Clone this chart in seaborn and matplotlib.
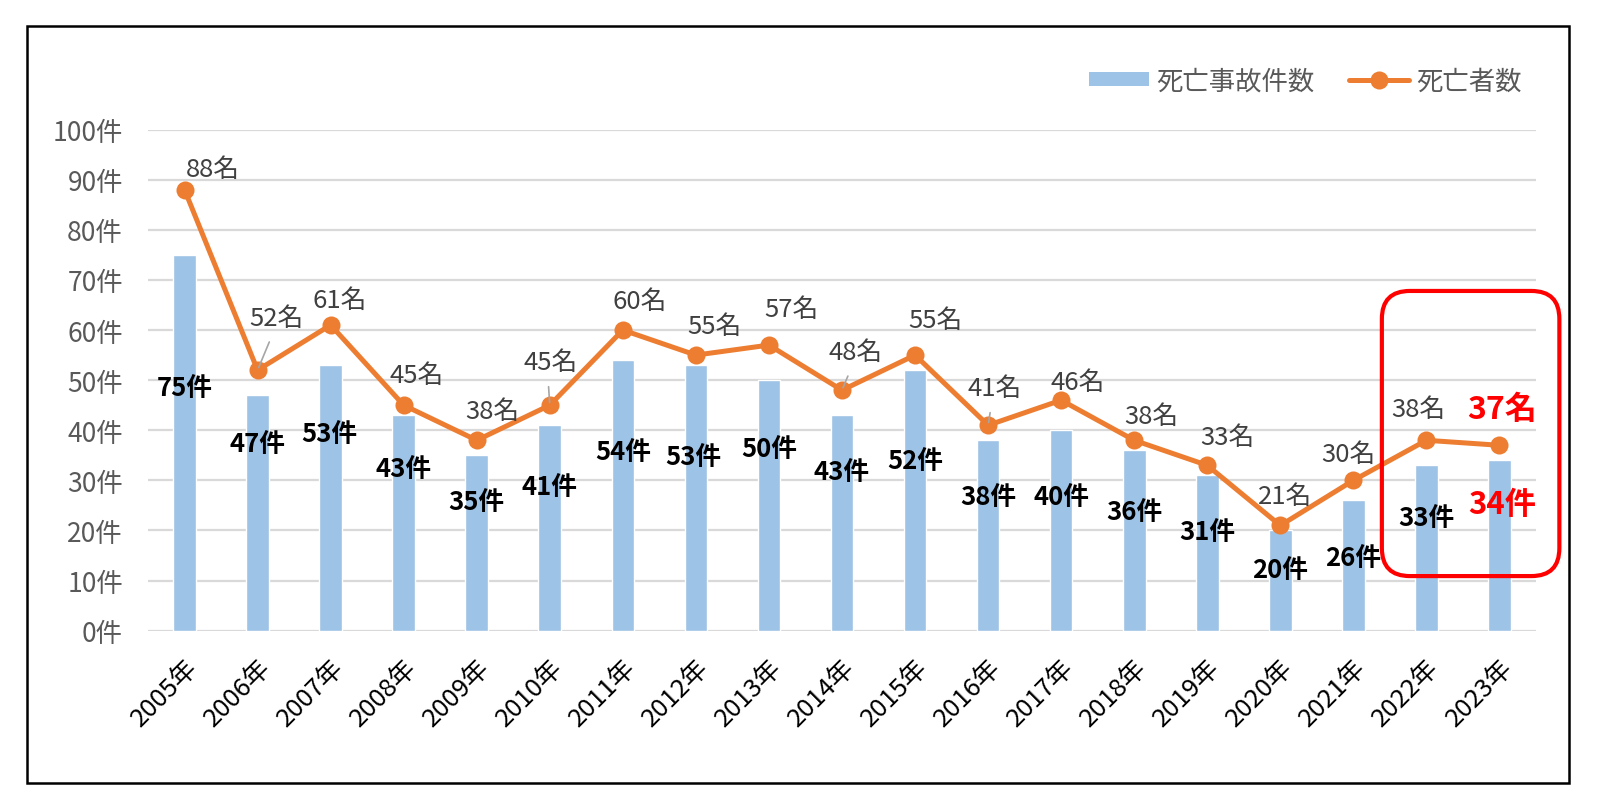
import numpy as np
import pandas as pd
import matplotlib
matplotlib.use('Agg')
import matplotlib.pyplot as plt
import seaborn as sns
from matplotlib.patches import FancyBboxPatch, Rectangle, Patch
from matplotlib.lines import Line2D
from matplotlib.transforms import IdentityTransform

# data
years = ['2005年', '2006年', '2007年', '2008年', '2009年', '2010年', '2011年',
         '2012年', '2013年', '2014年', '2015年', '2016年', '2017年', '2018年',
         '2019年', '2020年', '2021年', '2022年', '2023年']
accidents = [75, 47, 53, 43, 35, 41, 54, 53, 50, 43, 52, 38, 40, 36, 31, 20, 26, 33, 34]
deaths = [88, 52, 61, 45, 38, 45, 60, 55, 57, 48, 55, 41, 46, 38, 33, 21, 30, 38, 37]

# where the data labels sit (as placed by hand in the original)
acc_lbl_dx = [0, 0, -0.02, 0, 0, 0, 0, -0.03, 0, 0, 0, 0, 0, 0, 0, 0, 0, 0, 0.04]
acc_lbl_y = [48.6, 37.3, 39.3, 32.3, 25.7, 28.7, 35.7, 34.7, 36.3, 31.7, 34.0,
             26.7, 26.7, 23.7, 19.7, 12.3, 14.7, 22.6, 25.2]
dth_lbl_dx = [0.39, 0.26, 0.13, 0.18, 0.22, 0.01, 0.23, 0.26, 0.31, 0.18, 0.28,
              0.09, 0.23, 0.24, 0.28, 0.06, -0.07, -0.11, 0.04]
dth_lbl_y = [92.1, 62.4, 66.0, 51.0, 43.9, 53.6, 65.8, 60.8, 64.2, 55.6, 62.1,
             48.4, 49.6, 42.9, 38.7, 26.9, 35.3, 44.3, 44.3]
leader_years = ['2006年', '2010年', '2014年', '2016年']
highlight = '2023年'

df = pd.DataFrame({'year': years, 'accidents': accidents, 'deaths': deaths})

sns.set_style('white')
plt.rcParams['font.family'] = ['Liberation Sans Narrow', 'Noto Sans CJK JP', 'DejaVu Sans']

BLUE = '#9DC3E6'
ORANGE = '#ED7D31'

W, H = 1600, 812
fig = plt.figure(figsize=(16, 8.12), dpi=100)
ax = fig.add_axes([148 / W, 1 - 631.7 / H, (1536 - 148) / W, (631.7 - 130.6) / H])

sns.barplot(data=df, x='year', y='accidents', color=BLUE, saturation=1,
            width=0.31, ax=ax, zorder=2)
sns.lineplot(data=df, x='year', y='deaths', sort=False, color=ORANGE, lw=3.6,
             marker='o', markersize=13, markeredgewidth=0, ax=ax, zorder=3)

n = len(years)
ax.set_xlim(-0.5, n - 0.5)
ax.set_ylim(0, 100)
ax.set_yticks(range(0, 101, 10))
ax.set_yticklabels([f'{v}件' for v in range(0, 101, 10)], fontsize=19, color='#595959')
ax.set_xticks(range(n))
ax.set_xticklabels(years, rotation=45, ha='right', rotation_mode='anchor',
                   fontsize=18.5, color='black')
ax.tick_params(axis='y', length=0, pad=18)
ax.tick_params(axis='x', length=0, pad=17)
ax.yaxis.grid(True, color='#D9D9D9', lw=1.6)
ax.xaxis.grid(False)
ax.set_axisbelow(True)
ax.set_xlabel('')
ax.set_ylabel('')
for s in ax.spines.values():
    s.set_visible(False)

# data labels
for i, y in enumerate(years):
    red = (y == highlight)
    ax.text(i + acc_lbl_dx[i], acc_lbl_y[i], f'{accidents[i]}件', ha='center', va='center',
            fontsize=22.5 if red else 18.5, fontweight='bold',
            color='#FF0000' if red else 'black', zorder=5)
    if y in leader_years:
        ax.annotate(f'{deaths[i]}名', xy=(i, deaths[i]), xytext=(i + dth_lbl_dx[i], dth_lbl_y[i]),
                    ha='center', va='center', fontsize=18.5, color='#404040', zorder=5,
                    arrowprops=dict(arrowstyle='-', color='#A6A6A6', lw=1.2,
                                    relpos=(0.45, 0.0), shrinkA=6, shrinkB=2))
    else:
        ax.text(i + dth_lbl_dx[i], dth_lbl_y[i], f'{deaths[i]}名', ha='center', va='center',
                fontsize=23 if red else 18.5, fontweight='bold' if red else 'normal',
                color='#FF0000' if red else '#404040', zorder=5)

# legend
handles = [Patch(facecolor=BLUE, edgecolor='none'),
           Line2D([], [], color=ORANGE, lw=3.6, marker='o', markersize=13, markeredgewidth=0)]
fig.legend(handles, ['死亡事故件数', '死亡者数'], ncol=2, frameon=False,
           loc='center right', bbox_to_anchor=(1522 / W, 1 - 82 / H),
           labelcolor='#595959', handlelength=2.25, handleheight=0.45,
           handletextpad=0.3, columnspacing=1.3, borderpad=0, borderaxespad=0,
           prop={'family': ['Noto Sans CJK JP'], 'size': 19})

# red rounded box around the last two years
p0 = ax.transData.transform((16.39, 10.9))
p1 = ax.transData.transform((18.82, 67.8))
box = FancyBboxPatch((p0[0], p0[1]), p1[0] - p0[0], p1[1] - p0[1],
                     boxstyle='round,pad=0,rounding_size=28', transform=IdentityTransform(),
                     fill=False, edgecolor='#FF0000', lw=3)
fig.add_artist(box)

# outer frame
fig.add_artist(Rectangle((26.5 / W, 1 - 784 / H), (1569 - 26.5) / W, (784 - 26.5) / H,
                         transform=fig.transFigure, fill=False, edgecolor='black', lw=1.8))

fig.savefig('out.png', dpi=100, facecolor='white')
